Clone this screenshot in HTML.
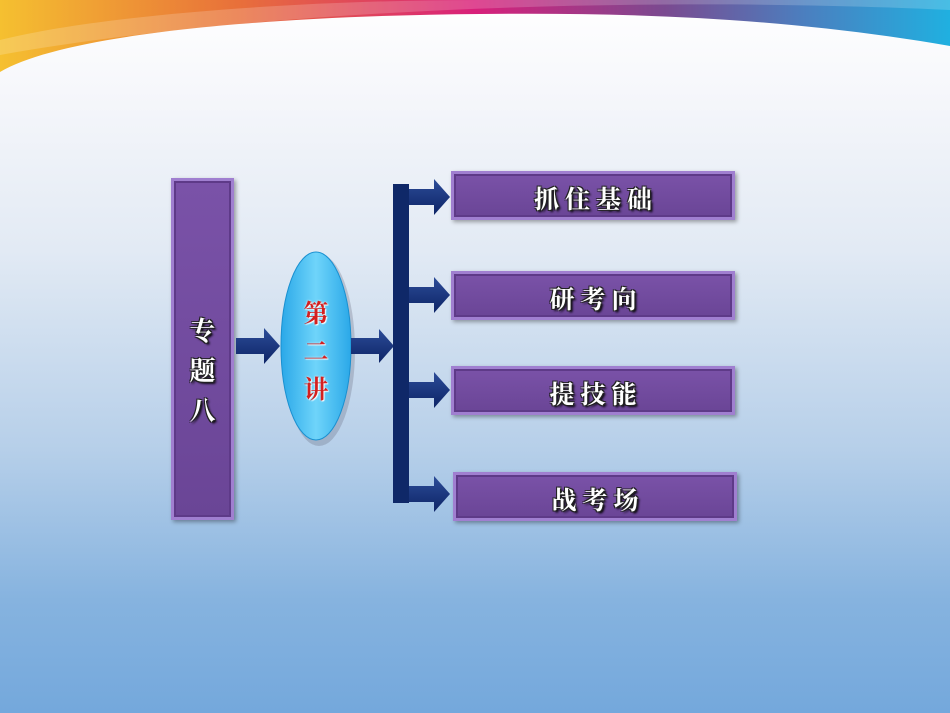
<!DOCTYPE html>
<html><head><meta charset="utf-8"><style>
html,body{margin:0;padding:0}
body{width:950px;height:713px;position:relative;overflow:hidden;background:linear-gradient(180deg,#ffffff 0px,#f6f7fb 90px,#e2eaf4 250px,#b6cfe9 450px,#86b3df 600px,#74a8dc 713px);font-family:"Liberation Serif","Noto Serif CJK SC",serif}
.box{position:absolute;background:linear-gradient(180deg,#7a52a8,#6a4596);border:3px solid #a07fd0;box-shadow:inset 0 0 0 2px #5e3a88,2px 2px 4px rgba(0,0,0,.35);box-sizing:border-box}
.lbl{position:absolute;color:#fff;font-weight:bold;font-size:25px;text-shadow:-1px -1px 0 #222,1px -1px 0 #222,-1px 1px 0 #222,1px 1px 0 #222,2px 2px 2px #000;letter-spacing:6px;text-indent:6px;text-align:center}
</style></head><body>
<svg width="950" height="100" style="position:absolute;left:0;top:0">
<defs><linearGradient id="r" x1="0" x2="1"><stop offset="0" stop-color="#f5c030"/><stop offset=".25" stop-color="#e8703a"/><stop offset=".5" stop-color="#d8207a"/><stop offset=".7" stop-color="#7a4a90"/><stop offset=".85" stop-color="#4a80c0"/><stop offset="1" stop-color="#20b0e0"/></linearGradient></defs>
<path d="M0 0 H950 V46 C800 20 650 12 480 14 C250 16 60 36 0 72 Z" fill="url(#r)"/>
<path d="M0 40 C100 15 300 0 480 0 L950 0 V10 C700 -2 300 2 0 55Z" fill="#fff" opacity=".18"/>
</svg>
<div class="box" style="left:171px;top:178px;width:63px;height:342px"></div>
<div class="lbl" style="left:171px;top:312px;width:63px;font-size:26px;line-height:40px;letter-spacing:0;text-indent:0">专<br>题<br>八</div>
<svg width="950" height="713" style="position:absolute;left:0;top:0">
<defs><linearGradient id="e" x1="0" x2="1"><stop offset="0" stop-color="#2aa8e8"/><stop offset=".5" stop-color="#6fd4fa"/><stop offset="1" stop-color="#2aa8e8"/></linearGradient>
<linearGradient id="a" x1="0" y1="0" x2="0" y2="1"><stop offset="0" stop-color="#2c4c98"/><stop offset="1" stop-color="#0d2466"/></linearGradient></defs>
<ellipse cx="319" cy="350" rx="36" ry="96" fill="#556" opacity=".25"/>
<ellipse cx="316" cy="346" rx="35" ry="94" fill="url(#e)" stroke="#1a90d0"/>
<g fill="url(#a)">
<path d="M236 338 H264 V328 L280 346 L264 364 V354 H236Z"/>
<path d="M351 338 H379 V329 L394 346 L379 363 V354 H351Z"/>
<rect x="393" y="184" width="16" height="319" fill="#0f2868"/>
<path d="M409 189 H434 V179 L450 197 L434 215 V205 H409Z"/>
<path d="M409 287 H434 V277 L450 295 L434 313 V303 H409Z"/>
<path d="M409 382 H434 V372 L450 390 L434 408 V398 H409Z"/>
<path d="M409 486 H434 V476 L450 494 L434 512 V502 H409Z"/>
</g></svg>
<div class="lbl" style="left:290px;top:296px;width:52px;font-size:25px;line-height:38px;color:#d42020;letter-spacing:0;text-indent:0;text-shadow:0 0 2px #fff,1px 1px 1px #fff">第<br>二<br>讲</div>
<div class="box" style="left:451px;top:171px;width:284px;height:49px"></div>
<div class="lbl" style="left:451px;top:180px;width:284px">抓住基础</div>
<div class="box" style="left:451px;top:271px;width:284px;height:49px"></div>
<div class="lbl" style="left:451px;top:280px;width:284px">研考向</div>
<div class="box" style="left:451px;top:366px;width:284px;height:49px"></div>
<div class="lbl" style="left:451px;top:375px;width:284px">提技能</div>
<div class="box" style="left:453px;top:472px;width:284px;height:49px"></div>
<div class="lbl" style="left:453px;top:481px;width:284px">战考场</div>
</body></html>
